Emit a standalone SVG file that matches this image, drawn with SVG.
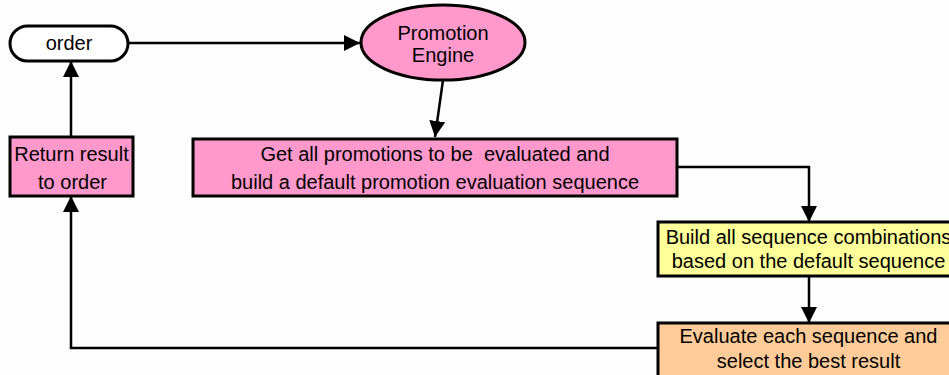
<svg xmlns="http://www.w3.org/2000/svg" width="949" height="375" viewBox="0 0 949 375">
  <style>
    .box { stroke: #000; stroke-width: 3; }
    .pink { fill: #FF99CC; }
    .yellow { fill: #FFFF99; }
    .peach { fill: #FFCC99; }
    .white { fill: #FFFFFF; }
    .lbl { font-family: "Liberation Sans", Arial, sans-serif; font-size: 20px; fill: #000; text-anchor: middle; }
    .conn { fill: none; stroke: #000; stroke-width: 2.5; marker-end: url(#arrow); }
  </style>
  <defs>
    <marker id="arrow" markerUnits="userSpaceOnUse" markerWidth="17" markerHeight="16" refX="16" refY="8" orient="auto" viewBox="0 0 17 16">
      <path d="M0,0 L16,8 L0,16 z" fill="#000"/>
    </marker>
  </defs>
  <rect width="949" height="375" fill="#FDFDFD"/>

  <g id="connectors">
    <path class="conn" d="M128,43 L360,43"/>
    <path class="conn" d="M443,80 L435,137"/>
    <path class="conn" d="M677,167 L809,167 L809,222"/>
    <path class="conn" d="M809,276 L809,323"/>
    <path class="conn" d="M658,348 L71,348 L71,196"/>
    <path class="conn" d="M71,137 L71,61"/>
  </g>

  <g id="order">
    <rect class="box white" x="10" y="26" width="118" height="35" rx="17.5"/>
    <text class="lbl" x="69" y="50">order</text>
  </g>

  <g id="promotion-engine">
    <ellipse class="box pink" cx="443" cy="42.5" rx="82" ry="37.5"/>
    <text class="lbl" x="443" y="40">Promotion</text>
    <text class="lbl" x="443" y="62">Engine</text>
  </g>

  <g id="get-promotions">
    <rect class="box pink" x="193" y="139" width="484" height="57"/>
    <text class="lbl" x="435" y="161" xml:space="preserve">Get all promotions to be  evaluated and</text>
    <text class="lbl" x="435" y="189">build a default promotion evaluation sequence</text>
  </g>

  <g id="return-result">
    <rect class="box pink" x="10" y="137" width="123" height="59"/>
    <text class="lbl" x="71.5" y="161">Return result</text>
    <text class="lbl" x="72.5" y="189">to order</text>
  </g>

  <g id="build-combinations">
    <rect class="box yellow" x="658" y="222" width="302" height="54"/>
    <text class="lbl" x="808.5" y="244">Build all sequence combinations</text>
    <text class="lbl" x="808.5" y="268">based on the default sequence</text>
  </g>

  <g id="evaluate">
    <rect class="box peach" x="658" y="323" width="302" height="62"/>
    <text class="lbl" x="808.5" y="343">Evaluate each sequence and</text>
    <text class="lbl" x="808.5" y="368">select the best result</text>
  </g>
</svg>
